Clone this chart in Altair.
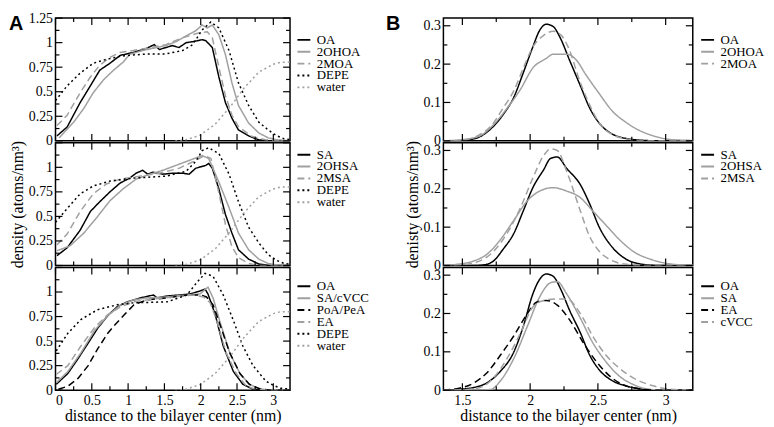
import altair as alt
import pandas as pd

# ---------------- Panel A (left column) ----------------
# top: OA family
A1_OA_x = [0.02,0.16,0.34,0.48,0.61,0.75,0.89,1.07,1.25,1.36,1.43,1.61,1.70,1.80,1.89,2.02,2.07,2.16,2.25,2.34,2.43,2.52,2.66,2.80,2.95,3.1,3.25]
A1_OA_y = [0.05,0.14,0.39,0.56,0.72,0.79,0.87,0.90,0.94,0.98,0.93,0.97,0.95,1.00,1.01,1.03,1.02,0.95,0.65,0.39,0.23,0.11,0.05,0.01,0.0,0.0,0.0]
A1_2OHOA_x = [0.05,0.25,0.39,0.52,0.66,0.80,0.93,1.02,1.20,1.39,1.52,1.66,1.80,1.93,2.02,2.09,2.16,2.25,2.34,2.43,2.52,2.66,2.80,2.93,3.05,3.25]
A1_2OHOA_y = [0.03,0.19,0.33,0.49,0.62,0.72,0.80,0.88,0.92,0.95,0.97,1.01,1.07,1.12,1.18,1.15,1.18,1.08,0.88,0.59,0.36,0.18,0.08,0.03,0.01,0.0]
A1_2MOA_x = [0.02,0.16,0.34,0.48,0.61,0.75,0.89,1.07,1.30,1.52,1.75,1.98,2.09,2.16,2.25,2.34,2.43,2.52,2.70,2.89,3.05,3.25]
A1_2MOA_y = [0.155,0.26,0.49,0.65,0.77,0.85,0.90,0.92,0.95,0.98,1.05,1.10,1.11,1.05,0.75,0.46,0.26,0.145,0.046,0.01,0.0,0.0]
A1_DEPE_x = [0.0,0.16,0.34,0.52,0.70,0.89,1.07,1.30,1.52,1.75,1.89,2.02,2.14,2.25,2.39,2.52,2.66,2.80,2.93,3.05,3.15,3.25]
A1_DEPE_y = [0.41,0.56,0.69,0.79,0.83,0.86,0.875,0.885,0.885,0.92,0.98,1.13,1.21,1.15,0.92,0.59,0.36,0.19,0.11,0.05,0.02,0.01]
WATER_x = [1.65,1.8,2.0,2.2,2.4,2.6,2.8,3.0,3.1,3.25]
WATER_y = [0.0,0.01,0.06,0.17,0.34,0.54,0.70,0.78,0.80,0.80]

# middle: SA family
A2_SA_x = [0.02,0.16,0.34,0.48,0.61,0.75,0.89,1.02,1.11,1.20,1.27,1.34,1.48,1.61,1.75,1.84,1.93,2.07,2.11,2.16,2.25,2.34,2.43,2.52,2.66,2.80,2.95,3.25]
A2_SA_y = [0.10,0.18,0.36,0.55,0.65,0.75,0.84,0.89,0.94,0.97,0.93,0.95,0.93,0.94,0.94,0.93,0.99,1.02,1.04,0.99,0.78,0.52,0.33,0.16,0.065,0.015,0.0,0.0]
A2_2OHSA_x = [0.02,0.20,0.39,0.57,0.75,0.93,1.11,1.30,1.48,1.66,1.84,2.02,2.11,2.25,2.39,2.52,2.66,2.80,2.93,3.05,3.25]
A2_2OHSA_y = [0.15,0.20,0.33,0.49,0.66,0.78,0.88,0.93,0.97,1.02,1.07,1.12,1.09,0.85,0.59,0.33,0.16,0.065,0.02,0.005,0.0]
A2_2MSA_x = [0.02,0.16,0.34,0.52,0.70,0.89,1.16,1.43,1.70,1.93,2.05,2.14,2.25,2.34,2.43,2.52,2.66,2.80,3.25]
A2_2MSA_y = [0.21,0.32,0.55,0.73,0.83,0.88,0.91,0.94,0.99,1.07,1.12,1.09,0.74,0.42,0.19,0.08,0.02,0.0,0.0]
A2_DEPE_x = [0.0,0.16,0.34,0.52,0.75,1.07,1.52,1.80,1.93,2.02,2.11,2.25,2.39,2.52,2.66,2.80,2.93,3.05,3.15,3.25]
A2_DEPE_y = [0.44,0.58,0.73,0.81,0.86,0.89,0.91,0.96,1.06,1.17,1.20,1.14,0.93,0.65,0.39,0.23,0.11,0.05,0.02,0.01]

# bottom: mixed
A3_OA_x = [0.01,0.17,0.31,0.45,0.58,0.72,0.85,0.99,1.17,1.35,1.40,1.54,1.72,1.85,1.99,2.06,2.10,2.20,2.31,2.45,2.58,2.72,2.85,3.25]
A3_OA_y = [0.06,0.17,0.32,0.48,0.63,0.76,0.85,0.90,0.94,0.97,0.94,0.96,0.97,0.98,1.01,1.03,0.98,0.77,0.45,0.19,0.06,0.01,0.0,0.0]
A3_SACVCC_x = [0.01,0.17,0.35,0.54,0.72,0.90,1.08,1.26,1.54,1.81,1.99,2.10,2.17,2.26,2.40,2.54,2.67,2.81,2.95,3.25]
A3_SACVCC_y = [0.075,0.19,0.38,0.61,0.76,0.87,0.92,0.94,0.95,0.97,0.98,1.05,0.94,0.71,0.38,0.17,0.06,0.015,0.0,0.0]
A3_POA_x = [0.04,0.17,0.31,0.45,0.58,0.72,0.81,0.95,1.08,1.26,1.54,1.81,1.99,2.08,2.17,2.26,2.40,2.54,2.67,2.81,2.95,3.25]
A3_POA_y = [0.01,0.04,0.12,0.25,0.42,0.58,0.66,0.77,0.87,0.92,0.94,0.97,0.97,0.95,0.87,0.68,0.38,0.17,0.06,0.015,0.0,0.0]
A3_EA_x = [0.01,0.17,0.35,0.54,0.72,0.90,1.08,1.35,1.63,1.90,2.04,2.13,2.22,2.35,2.49,2.63,2.76,2.90,3.25]
A3_EA_y = [0.16,0.25,0.45,0.64,0.77,0.85,0.90,0.93,0.95,0.97,0.95,0.89,0.71,0.38,0.17,0.04,0.01,0.0,0.0]
A3_DEPE_x = [0.01,0.17,0.35,0.58,0.85,1.08,1.54,1.81,1.95,2.06,2.17,2.31,2.45,2.58,2.72,2.90,3.0,3.1,3.25]
A3_DEPE_y = [0.40,0.58,0.72,0.82,0.87,0.89,0.90,0.97,1.10,1.19,1.16,0.97,0.71,0.45,0.25,0.09,0.05,0.02,0.01]

# ---------------- Panel B (right column) ----------------
B1_OA_x = [1.36,1.46,1.585,1.66,1.73,1.80,1.88,1.95,2.02,2.07,2.12,2.17,2.22,2.29,2.37,2.44,2.51,2.61,2.71,2.80,2.95,3.2]
B1_OA_y = [0,0,0.005,0.017,0.038,0.068,0.114,0.178,0.245,0.288,0.304,0.298,0.27,0.211,0.144,0.085,0.046,0.017,0.006,0.002,0,0]
B1_2OHOA_x = [1.36,1.5,1.63,1.73,1.83,1.93,2.02,2.12,2.17,2.27,2.34,2.41,2.51,2.61,2.70,2.80,2.90,3.0,3.1,3.2]
B1_2OHOA_y = [0,0.003,0.013,0.042,0.085,0.135,0.19,0.215,0.226,0.226,0.211,0.173,0.123,0.076,0.05,0.028,0.014,0.005,0.002,0.001]
B1_2MOA_x = [1.36,1.5,1.61,1.71,1.80,1.88,1.95,2.02,2.10,2.17,2.23,2.28,2.37,2.44,2.51,2.61,2.71,2.85,3.2]
B1_2MOA_y = [0,0.002,0.013,0.038,0.085,0.131,0.19,0.245,0.275,0.286,0.275,0.245,0.152,0.093,0.046,0.016,0.005,0.0,0]

B2_SA_x = [1.36,1.585,1.68,1.73,1.80,1.88,1.95,2.02,2.10,2.15,2.20,2.27,2.37,2.44,2.51,2.61,2.71,2.80,2.95,3.2]
B2_SA_y = [0,0,0.003,0.012,0.042,0.084,0.143,0.203,0.25,0.279,0.283,0.253,0.211,0.16,0.10,0.046,0.016,0.005,0,0]
B2_2OHSA_x = [1.36,1.46,1.585,1.68,1.78,1.88,1.98,2.07,2.17,2.27,2.37,2.46,2.56,2.66,2.76,2.90,3.0,3.1,3.2]
B2_2OHSA_y = [0,0.003,0.012,0.029,0.067,0.118,0.169,0.194,0.203,0.194,0.177,0.143,0.105,0.067,0.037,0.015,0.006,0.002,0.001]
B2_2MSA_x = [1.36,1.5,1.63,1.73,1.83,1.93,2.02,2.10,2.15,2.20,2.27,2.37,2.44,2.51,2.61,2.71,2.85,3.2]
B2_2MSA_y = [0,0.002,0.012,0.037,0.084,0.152,0.228,0.287,0.304,0.30,0.245,0.143,0.075,0.037,0.012,0.003,0,0]

B3_OA_x = [1.36,1.46,1.585,1.68,1.78,1.88,1.95,2.02,2.07,2.12,2.17,2.23,2.29,2.37,2.44,2.51,2.61,2.71,2.80,2.95,3.2]
B3_OA_y = [0,0.002,0.007,0.019,0.049,0.10,0.167,0.251,0.289,0.303,0.297,0.26,0.209,0.15,0.091,0.053,0.024,0.011,0.004,0.0,0]
B3_SA_x = [1.36,1.6,1.71,1.78,1.88,1.98,2.07,2.15,2.20,2.27,2.37,2.46,2.56,2.66,2.76,2.85,3.0,3.2]
B3_SA_y = [0,0,0.002,0.024,0.083,0.167,0.243,0.28,0.283,0.251,0.188,0.125,0.074,0.036,0.015,0.004,0,0]
B3_EA_x = [1.36,1.46,1.585,1.68,1.78,1.88,1.98,2.05,2.12,2.20,2.29,2.39,2.49,2.59,2.68,2.80,2.95,3.2]
B3_EA_y = [0.001,0.004,0.019,0.045,0.091,0.142,0.20,0.23,0.234,0.222,0.184,0.125,0.074,0.036,0.015,0.004,0.0,0]
B3_CVCC_x = [1.36,1.5,1.63,1.73,1.83,1.93,2.02,2.10,2.20,2.27,2.37,2.46,2.56,2.66,2.76,2.90,3.0,3.1,3.2]
B3_CVCC_y = [0,0.001,0.007,0.032,0.083,0.15,0.217,0.234,0.238,0.238,0.20,0.142,0.091,0.057,0.032,0.012,0.004,0.001,0]

# axis ticks
A_X_MAJOR = [0, 0.5, 1, 1.5, 2, 2.5, 3]
A_X_MINOR = [0.25, 0.75, 1.25, 1.75, 2.25, 2.75]
A_Y_MAJOR = [0, 0.25, 0.5, 0.75, 1, 1.25]
A_Y_MINOR = [0.125, 0.375, 0.625, 0.875, 1.125]
B_X_MAJOR = [1.5, 2, 2.5, 3]
B_X_MINOR = [1.75, 2.25, 2.75]
B_Y_MAJOR = [0, 0.1, 0.2, 0.3]
B_Y_MINOR = [0.05, 0.15, 0.25]

BLACK = "#000000"
GRAY = "#a0a0a0"
SOLID = [1, 0]
DASH = [7, 4]
DOT = [2, 3]

SERIF = "Liberation Serif"
W_A, W_B, H = 237, 252, 124
LABEL_EXPR = "'' + datum.value"


def panel(series, xdom, ydom, w, xmaj, xmin, ymaj, ymin, ylabels, show_x,
          ytitle, legend_y, legend_dx, interp, label=None, label_dx=0):
    rows = []
    for name, xs, ys, col, dash in series:
        for xv, yv in zip(xs, ys):
            rows.append({"s": name, "x": xv, "y": yv})
    df = pd.DataFrame(rows)
    names = [s[0] for s in series]
    cols = [s[3] for s in series]
    dashes = [s[4] for s in series]

    if show_x:
        xaxis = alt.Axis(values=xmaj, ticks=False, domain=False, grid=False,
                         labelExpr=LABEL_EXPR, labelPadding=3,
                         title="distance to the bilayer center (nm)", titlePadding=1)
    else:
        xaxis = None
    if ytitle:
        yaxis = alt.Axis(values=ylabels, ticks=False, domain=False, grid=False,
                         labelExpr=LABEL_EXPR, labelPadding=3, title=ytitle, titlePadding=3)
    else:
        yaxis = alt.Axis(values=ylabels, ticks=False, domain=False, grid=False,
                         labelExpr=LABEL_EXPR, labelPadding=3, title=None)
    X = alt.X("x:Q", scale=alt.Scale(domain=xdom, nice=False, zero=False), axis=xaxis)
    Y = alt.Y("y:Q", scale=alt.Scale(domain=ydom, nice=False, zero=False), axis=yaxis)
    leg = alt.Legend(title=None, orient="none", legendX=w + legend_dx, legendY=legend_y,
                     symbolType="stroke", symbolStrokeWidth=2, symbolSize=170,
                     labelFont=SERIF, labelFontSize=13, labelColor="black",
                     clipHeight=10, rowPadding=-2, labelOffset=5, padding=0)
    lines = alt.Chart(df).mark_line(clip=True, strokeWidth=1.5, interpolate=interp).encode(
        x=X, y=Y,
        color=alt.Color("s:N", scale=alt.Scale(domain=names, range=cols), legend=leg),
        strokeDash=alt.StrokeDash("s:N", scale=alt.Scale(domain=names, range=dashes), legend=leg),
        detail="s:N",
    )
    layers = [lines]
    for vals, L in ((xmaj, 7), (xmin, 4)):
        tdf = pd.DataFrame({"x": vals})
        layers.append(alt.Chart(tdf).mark_rule(color="black", strokeWidth=1.2).encode(
            x=X, y=alt.value(H), y2=alt.value(H - L)))
        layers.append(alt.Chart(tdf).mark_rule(color="black", strokeWidth=1.2).encode(
            x=X, y=alt.value(0), y2=alt.value(L)))
    for vals, L in ((ymaj, 7), (ymin, 4)):
        tdf = pd.DataFrame({"y": vals})
        layers.append(alt.Chart(tdf).mark_rule(color="black", strokeWidth=1.2).encode(
            y=Y, x=alt.value(0), x2=alt.value(L)))
        layers.append(alt.Chart(tdf).mark_rule(color="black", strokeWidth=1.2).encode(
            y=Y, x=alt.value(w), x2=alt.value(w - L)))
    if label:
        ldf = pd.DataFrame({"t": [label]})
        layers.append(alt.Chart(ldf).mark_text(
            font="Liberation Sans", fontWeight="bold", fontSize=20, align="left",
            baseline="top", color="black").encode(
            text="t:N", x=alt.value(label_dx), y=alt.value(-4)))
    return alt.layer(*layers).properties(width=w, height=H)


YT_A = "density (atoms/nm³)"
YT_B = "denisty (atoms/nm³)"

a1 = panel([("OA", A1_OA_x, A1_OA_y, BLACK, SOLID),
            ("2OHOA", A1_2OHOA_x, A1_2OHOA_y, GRAY, SOLID),
            ("2MOA", A1_2MOA_x, A1_2MOA_y, GRAY, DASH),
            ("DEPE", A1_DEPE_x, A1_DEPE_y, BLACK, DOT),
            ("water", WATER_x, WATER_y, GRAY, DOT)],
           [0, 3.23], [0, 1.25], W_A, A_X_MAJOR, A_X_MINOR, A_Y_MAJOR, A_Y_MINOR,
           A_Y_MAJOR, False, None, 17, 6, "linear", "A", -47)
a2 = panel([("SA", A2_SA_x, A2_SA_y, BLACK, SOLID),
            ("2OHSA", A2_2OHSA_x, A2_2OHSA_y, GRAY, SOLID),
            ("2MSA", A2_2MSA_x, A2_2MSA_y, GRAY, DASH),
            ("DEPE", A2_DEPE_x, A2_DEPE_y, BLACK, DOT),
            ("water", WATER_x, WATER_y, GRAY, DOT)],
           [0, 3.23], [0, 1.25], W_A, A_X_MAJOR, A_X_MINOR, A_Y_MAJOR, A_Y_MINOR,
           A_Y_MAJOR[:-1], False, YT_A, 7, 6, "linear")
a3 = panel([("OA", A3_OA_x, A3_OA_y, BLACK, SOLID),
            ("SA/cVCC", A3_SACVCC_x, A3_SACVCC_y, GRAY, SOLID),
            ("PoA/PeA", A3_POA_x, A3_POA_y, BLACK, DASH),
            ("EA", A3_EA_x, A3_EA_y, GRAY, DASH),
            ("DEPE", A3_DEPE_x, A3_DEPE_y, BLACK, DOT),
            ("water", WATER_x, WATER_y, GRAY, DOT)],
           [0, 3.23], [0, 1.25], W_A, A_X_MAJOR, A_X_MINOR, A_Y_MAJOR, A_Y_MINOR,
           A_Y_MAJOR[:-1], True, None, 14, 6, "linear")

b1 = panel([("OA", B1_OA_x, B1_OA_y, BLACK, SOLID),
            ("2OHOA", B1_2OHOA_x, B1_2OHOA_y, GRAY, SOLID),
            ("2MOA", B1_2MOA_x, B1_2MOA_y, GRAY, DASH)],
           [1.36, 3.2], [0, 0.32], W_B, B_X_MAJOR, B_X_MINOR, B_Y_MAJOR, B_Y_MINOR,
           B_Y_MAJOR, False, None, 17, 7, "monotone", "B", -58)
b2 = panel([("SA", B2_SA_x, B2_SA_y, BLACK, SOLID),
            ("2OHSA", B2_2OHSA_x, B2_2OHSA_y, GRAY, SOLID),
            ("2MSA", B2_2MSA_x, B2_2MSA_y, GRAY, DASH)],
           [1.36, 3.2], [0, 0.32], W_B, B_X_MAJOR, B_X_MINOR, B_Y_MAJOR, B_Y_MINOR,
           B_Y_MAJOR, False, YT_B, 7, 7, "monotone")
b3 = panel([("OA", B3_OA_x, B3_OA_y, BLACK, SOLID),
            ("SA", B3_SA_x, B3_SA_y, GRAY, SOLID),
            ("EA", B3_EA_x, B3_EA_y, BLACK, DASH),
            ("cVCC", B3_CVCC_x, B3_CVCC_y, GRAY, DASH)],
           [1.36, 3.2], [0, 0.32], W_B, B_X_MAJOR, B_X_MINOR, B_Y_MAJOR, B_Y_MINOR,
           B_Y_MAJOR, True, None, 14, 7, "monotone")

left = alt.vconcat(a1, a2, a3, spacing=2, bounds="flush").resolve_scale(
    color="independent", strokeDash="independent")
right = alt.vconcat(b1, b2, b3, spacing=2, bounds="flush").resolve_scale(
    color="independent", strokeDash="independent")

chart = alt.hconcat(left, right, spacing=15).resolve_scale(
    color="independent", strokeDash="independent"
).properties(
    padding={"left": 0, "top": 0, "right": 0, "bottom": 0},
    background="white"
).configure_view(
    stroke="black", strokeWidth=1.5
).configure_axis(
    labelFont=SERIF, labelFontSize=14, labelColor="black",
    titleFont=SERIF, titleFontSize=16, titleFontWeight="normal", titleColor="black"
).configure_legend(
    labelFont=SERIF, labelFontSize=13, labelColor="black"
)

chart.save("out.html", embed_options={"renderer": "svg", "actions": False})
